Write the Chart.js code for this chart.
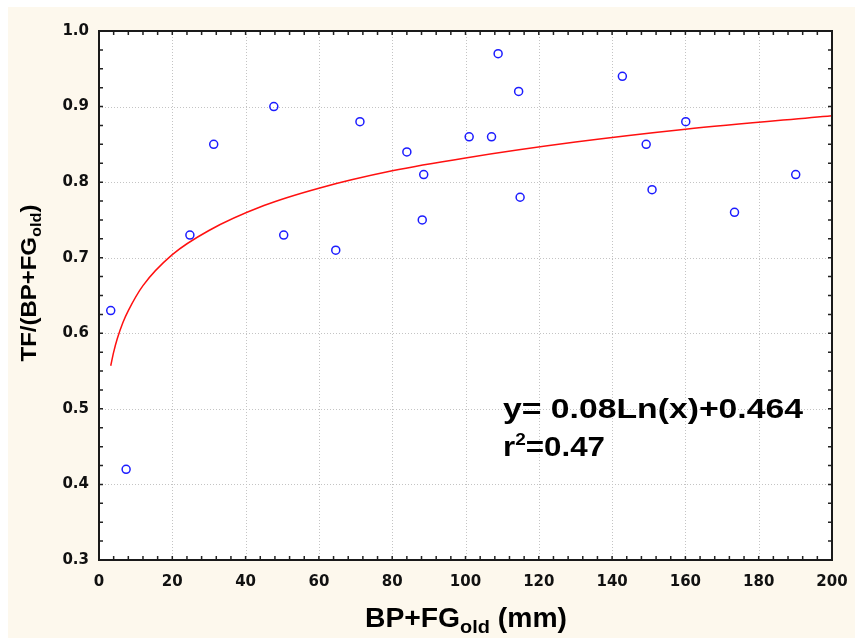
<!DOCTYPE html>
<html>
<head>
<meta charset="utf-8">
<script src="https://cdn.jsdelivr.net/npm/chart.js@4.4.1/dist/chart.umd.min.js"></script>
<style>
  html, body { margin: 0; padding: 0; background: #fff; }
  #wrap { width: 855px; height: 638px; }
</style>
</head>
<body>
<div id="wrap"><canvas id="tfChart" width="855" height="638"></canvas></div>
<script>
// observed points
const bpFgOld = [3.2, 7.4, 24.8, 31.3, 47.7, 50.4, 64.6, 71.2, 84.0, 88.2, 88.6, 101.0, 107.1, 108.9, 114.5, 114.9, 142.8, 149.3, 150.9, 160.1, 173.4, 190.1];
const tfRatio = [0.63, 0.42, 0.73, 0.85, 0.90, 0.73, 0.71, 0.88, 0.84, 0.75, 0.81, 0.86, 0.86, 0.97, 0.92, 0.78, 0.94, 0.85, 0.79, 0.88, 0.76, 0.81];

// fitted curve, sampled from the drawn red line
const fitX = [3.2, 4, 5, 6.5, 8, 12, 20, 30, 45, 60, 80, 100, 130, 160, 200];
const fitY = [0.557, 0.575, 0.593, 0.614, 0.630, 0.663, 0.704, 0.736, 0.769, 0.792, 0.815, 0.832, 0.853, 0.870, 0.888];

const xTicks = [0, 20, 40, 60, 80, 100, 120, 140, 160, 180, 200];
const yTicks = [0.3, 0.4, 0.5, 0.6, 0.7, 0.8, 0.9, 1.0];

const tickFont = { family: "'DejaVu Sans', Verdana, sans-serif", size: 15, weight: "bold" };
const CREAM = "#fdf8ed";

const toXY = (xs, ys) => xs.map((x, i) => ({ x: x, y: ys[i] }));

// draws text pieces (with sub/superscripts) squeezed to a given width
function drawRuns(ctx, runs, x, y, targetW, align) {
  let total = 0;
  runs.forEach((r) => {
    ctx.font = "bold " + r.size + "px 'Liberation Sans', Arial, sans-serif";
    r.w = ctx.measureText(r.t).width;
    total += r.w;
  });
  const sx = targetW / total;
  ctx.save();
  ctx.translate(x, y);
  ctx.scale(sx, 1);
  let cx = align === "center" ? -total / 2 : 0;
  ctx.fillStyle = "#000";
  ctx.textBaseline = "alphabetic";
  ctx.textAlign = "left";
  runs.forEach((r) => {
    ctx.font = "bold " + r.size + "px 'Liberation Sans', Arial, sans-serif";
    ctx.fillText(r.t, cx, r.dy || 0);
    cx += r.w;
  });
  ctx.restore();
}

const backdrop = {
  id: "backdrop",
  beforeDraw(chart) {
    const { ctx, chartArea: a } = chart;
    ctx.save();
    ctx.fillStyle = "#fff";
    ctx.fillRect(0, 0, chart.width, chart.height);
    ctx.fillStyle = CREAM;
    ctx.fillRect(8, 7, chart.width - 8, chart.height - 7);
    ctx.fillStyle = "#fff";
    ctx.fillRect(a.left, a.top, a.right - a.left, a.bottom - a.top);
    ctx.restore();
  },
  beforeDatasetsDraw(chart) {
    // dotted grid at the major ticks
    const { ctx, chartArea: a, scales } = chart;
    ctx.save();
    ctx.strokeStyle = "#c4c4c4";
    ctx.lineWidth = 1;
    ctx.setLineDash([1, 2]);
    xTicks.forEach((v) => {
      const px = Math.round(scales.x.getPixelForValue(v)) + 0.5;
      ctx.beginPath();
      ctx.moveTo(px, a.top);
      ctx.lineTo(px, a.bottom);
      ctx.stroke();
    });
    yTicks.forEach((v) => {
      const py = Math.round(scales.y.getPixelForValue(v)) + 0.5;
      ctx.beginPath();
      ctx.moveTo(a.left, py);
      ctx.lineTo(a.right, py);
      ctx.stroke();
    });
    ctx.restore();
  },
  afterDatasetsDraw(chart) {
    const { ctx, chartArea: a, scales } = chart;
    ctx.save();
    // inward minor ticks on all four sides
    ctx.strokeStyle = "#222";
    ctx.lineWidth = 1.5;
    for (let v = 0; v <= 200; v += 4) {
      const px = scales.x.getPixelForValue(v);
      ctx.beginPath();
      ctx.moveTo(px, a.bottom);
      ctx.lineTo(px, a.bottom - 4);
      ctx.moveTo(px, a.top);
      ctx.lineTo(px, a.top + 4);
      ctx.stroke();
    }
    for (let i = 0; i <= 28; i++) {
      const py = scales.y.getPixelForValue(0.3 + i * 0.025);
      ctx.beginPath();
      ctx.moveTo(a.left, py);
      ctx.lineTo(a.left + 4, py);
      ctx.moveTo(a.right, py);
      ctx.lineTo(a.right - 4, py);
      ctx.stroke();
    }
    // frame
    ctx.lineWidth = 2;
    ctx.strokeStyle = "#1a1a1a";
    ctx.strokeRect(a.left, a.top, a.right - a.left, a.bottom - a.top);
    ctx.restore();
  },
  afterDraw(chart) {
    const ctx = chart.ctx;
    // regression label
    drawRuns(ctx, [{ t: "y= 0.08Ln(x)+0.464", size: 28 }], 503, 418, 300, "left");
    drawRuns(ctx, [
      { t: "r", size: 28 },
      { t: "2", size: 17, dy: -11 },
      { t: "=0.47", size: 28 },
    ], 503, 456, 102, "left");
    // x axis title
    drawRuns(ctx, [
      { t: "BP+FG", size: 27 },
      { t: "old", size: 19, dy: 6 },
      { t: " (mm)", size: 27 },
    ], 466, 627, 202, "center");
    // y axis title
    ctx.save();
    ctx.translate(36, 283);
    ctx.rotate(-Math.PI / 2);
    drawRuns(ctx, [
      { t: "TF/(BP+FG", size: 22 },
      { t: "old", size: 15, dy: 5 },
      { t: ")", size: 22 },
    ], 0, 0, 157, "center");
    ctx.restore();
  },
};

new Chart(document.getElementById("tfChart"), {
  type: "scatter",
  data: {
    datasets: [
      {
        label: "observed",
        data: toXY(bpFgOld, tfRatio),
        showLine: false,
        pointStyle: "circle",
        pointRadius: 4,
        pointBorderWidth: 1.5,
        pointBorderColor: "#1c1cff",
        pointBackgroundColor: "rgba(0,0,0,0)",
      },
      {
        label: "fit",
        data: toXY(fitX, fitY),
        showLine: true,
        cubicInterpolationMode: "monotone",
        borderColor: "#ff1010",
        borderWidth: 1.5,
        pointRadius: 0,
        fill: false,
      },
    ],
  },
  options: {
    responsive: false,
    animation: false,
    layout: { padding: { top: 31, right: 23, left: 0, bottom: 0 } },
    plugins: { legend: { display: false }, tooltip: { enabled: false } },
    scales: {
      x: {
        type: "linear",
        min: 0,
        max: 200,
        afterBuildTicks: (s) => { s.ticks = xTicks.map((v) => ({ value: v })); },
        afterFit: (s) => {
          s.height = 78;
          s.paddingLeft = 0;
          s.paddingRight = 0;
        },
        grid: { display: false, drawTicks: false },
        border: { display: false },
        ticks: { font: tickFont, color: "#111", padding: 13, maxRotation: 0, autoSkip: false },
      },
      y: {
        type: "linear",
        min: 0.3,
        max: 1.0,
        afterBuildTicks: (s) => { s.ticks = yTicks.map((v) => ({ value: v })); },
        afterFit: (s) => {
          s.width = 99;
          s.paddingTop = 0;
          s.paddingBottom = 0;
        },
        grid: { display: false, drawTicks: false },
        border: { display: false },
        ticks: {
          font: tickFont,
          color: "#111",
          padding: 10,
          autoSkip: false,
          callback: (v) => Number(v).toFixed(1),
        },
      },
    },
  },
  plugins: [backdrop],
});
</script>
</body>
</html>
